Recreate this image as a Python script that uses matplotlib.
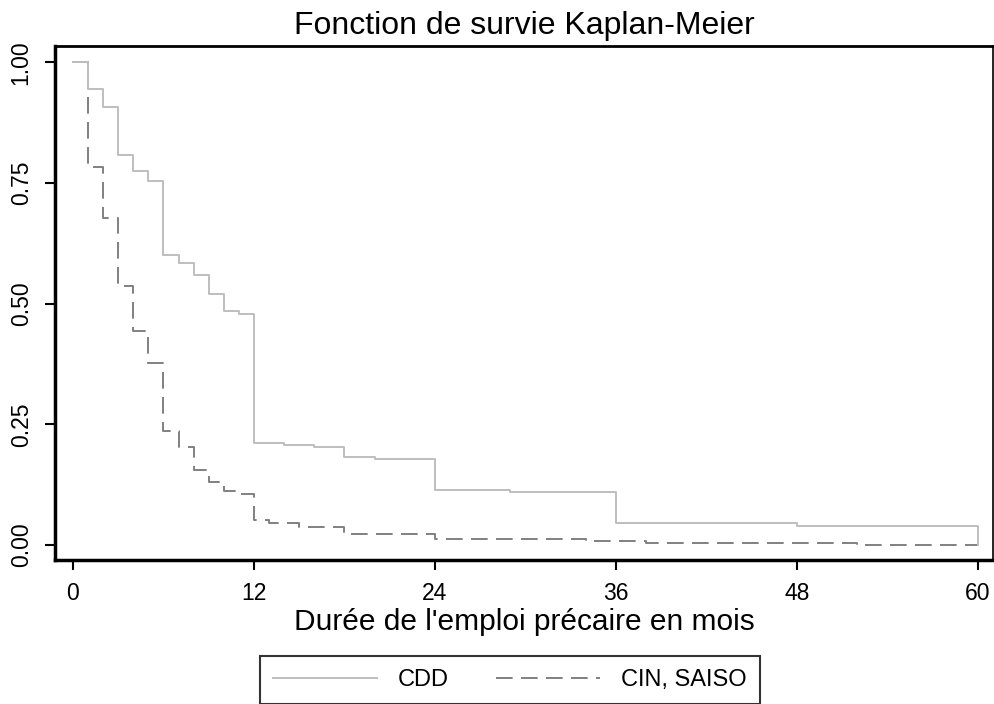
import matplotlib
matplotlib.use("Agg")
import matplotlib.pyplot as plt

# Kaplan-Meier survival estimates
cdd_t = [0, 1, 2, 3, 4, 5, 6, 7, 8, 9, 10, 11, 12, 14, 16, 18, 20, 24, 29, 36, 48, 60]
cdd_s = [1.0, 0.945, 0.907, 0.808, 0.775, 0.755, 0.600, 0.584, 0.559, 0.520, 0.486,
         0.479, 0.211, 0.207, 0.203, 0.182, 0.178, 0.114, 0.110, 0.045, 0.040, 0.0]

cin_t = [0, 1, 2, 3, 4, 5, 6, 7, 8, 9, 10, 11, 12, 13, 15, 18, 24, 34, 38, 52, 60]
cin_s = [1.0, 0.784, 0.677, 0.537, 0.444, 0.378, 0.236, 0.204, 0.155, 0.131, 0.112,
         0.106, 0.052, 0.046, 0.038, 0.022, 0.012, 0.008, 0.0035, 0.0, 0.0]

x_ticks = [0, 12, 24, 36, 48, 60]
y_ticks = [0.0, 0.25, 0.50, 0.75, 1.0]
y_labels = ["0.00", "0.25", "0.50", "0.75", "1.00"]

plt.rcParams['font.family'] = ['Liberation Sans', 'DejaVu Sans']
plt.rcParams['lines.scale_dashes'] = False

fig = plt.figure(figsize=(9.94, 7.04), dpi=100)
ax = fig.add_axes([0.0553, 0.2045, 0.9437, 0.7301])

ax.plot(cin_t, cin_s, drawstyle='steps-post', color='#808080', lw=1.4,
        dashes=(12, 6), label='CIN, SAISO', zorder=2)
ax.plot(cdd_t, cdd_s, drawstyle='steps-post', color='#bebebe', lw=1.4,
        label='CDD', zorder=3)

ax.set_xlim(-1.19, 61.0)
ax.set_ylim(-0.031, 1.034)
ax.set_xticks(x_ticks)
ax.set_yticks(y_ticks)
ax.set_yticklabels(y_labels, rotation=90, va='center')
ax.tick_params(axis='both', labelsize=16.5, length=7, width=1.5, direction='out')
ax.tick_params(axis='x', pad=9)
ax.tick_params(axis='y', pad=9)

for side in ['left', 'bottom']:
    ax.spines[side].set_linewidth(2.5)
ax.spines['top'].set_linewidth(2)
ax.spines['right'].set_linewidth(1.2)

ax.set_title('Fonction de survie Kaplan-Meier', fontsize=23, pad=9)
ax.set_xlabel("Durée de l'emploi précaire en mois", fontsize=21.5, labelpad=2)

handles, labels = ax.get_legend_handles_labels()
leg = fig.legend(handles[::-1], labels[::-1], loc='center', ncol=2,
                 bbox_to_anchor=(510 / 994, 24 / 704), fontsize=17,
                 frameon=True, fancybox=False, edgecolor='black',
                 handlelength=4.4, handletextpad=0.9, columnspacing=2.0,
                 borderpad=0.55)
leg.get_frame().set_linewidth(1.5)

fig.savefig('out.png', dpi=100)
